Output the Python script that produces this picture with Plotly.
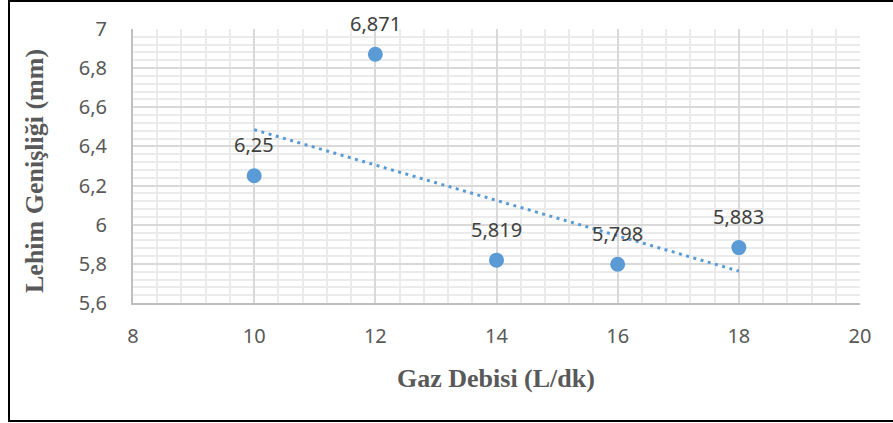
import numpy as np
import plotly.graph_objects as go

# Gas flow rate (L/min) vs. weld bead width (mm)
gaz_debisi = [10, 12, 14, 16, 18]
lehim_genisligi = [6.25, 6.871, 5.819, 5.798, 5.883]
etiketler = [str(v).replace(".", ",") for v in lehim_genisligi]

x_ticks = [8, 10, 12, 14, 16, 18, 20]
y_ticks = [5.6, 5.8, 6.0, 6.2, 6.4, 6.6, 6.8, 7.0]

BLUE = "#5b9bd5"
NUM_FONT = "Noto Sans"
TITLE_FONT = "Liberation Serif"

# Linear trend line over the measured points
slope, intercept = np.polyfit(gaz_debisi, lehim_genisligi, 1)
trend_x = [min(gaz_debisi), max(gaz_debisi)]
trend_y = [slope * v + intercept for v in trend_x]

fig = go.Figure()
fig.add_trace(go.Scatter(
    x=trend_x, y=trend_y, mode="lines",
    line=dict(color=BLUE, width=3, dash="3px,4.5px"),
    hoverinfo="skip", showlegend=False,
))
fig.add_trace(go.Scatter(
    x=gaz_debisi, y=lehim_genisligi, mode="markers",
    marker=dict(color=BLUE, size=15),
    showlegend=False, cliponaxis=False,
))

# Value labels above each point
for xv, yv, lab in zip(gaz_debisi, lehim_genisligi, etiketler):
    fig.add_annotation(
        x=xv, y=yv, text=lab, showarrow=False, yshift=31,
        xanchor="center", yanchor="middle",
        font=dict(family=NUM_FONT, size=20, color="#404040"),
    )

W, H = 893, 423
L, R, T, B = 133, 860, 29, 303

fig.update_layout(
    width=W, height=H,
    margin=dict(l=L, r=W - R, t=T, b=H - B),
    paper_bgcolor="white", plot_bgcolor="white",
    separators=",.",
    showlegend=False,
)
fig.update_xaxes(
    range=[8, 20], tickvals=x_ticks, ticks="",
    showgrid=True, gridcolor="#d9d9d9", gridwidth=1.5,
    minor=dict(dtick=0.4, showgrid=True, gridcolor="#ebebeb", gridwidth=1.5),
    showline=True, linecolor="#bfbfbf", linewidth=2,
    zeroline=False,
    tickfont=dict(family=NUM_FONT, size=20, color="#595959"),
    ticklabelstandoff=14,
)
fig.update_yaxes(
    range=[5.6, 7.0], tickvals=y_ticks, ticks="",
    showgrid=True, gridcolor="#d9d9d9", gridwidth=1.5,
    minor=dict(dtick=0.04, showgrid=True, gridcolor="#ebebeb", gridwidth=1.5),
    showline=True, linecolor="#bfbfbf", linewidth=2,
    zeroline=False,
    tickfont=dict(family=NUM_FONT, size=20, color="#595959"),
    ticklabelstandoff=20,
)


def px_x(p):
    return (p - L) / (R - L)


def px_y(p):
    return (B - p) / (B - T)


# Axis titles
fig.add_annotation(
    text="Gaz Debisi (L/dk)", xref="paper", yref="paper",
    x=px_x(496), y=px_y(378), showarrow=False,
    xanchor="center", yanchor="middle",
    font=dict(family=TITLE_FONT, size=26, color="#595959", weight="bold"),
)
fig.add_annotation(
    text="Lehim Genişliği (mm)", xref="paper", yref="paper",
    x=px_x(35), y=px_y(171), showarrow=False, textangle=-90,
    xanchor="center", yanchor="middle",
    font=dict(family=TITLE_FONT, size=26, color="#595959", weight="bold"),
)

# Frame around the chart (left, top, bottom)
frame = dict(color="black", width=2)
fig.add_shape(type="line", xref="paper", yref="paper",
              x0=px_x(9), x1=px_x(9), y0=px_y(1), y1=px_y(421), line=frame)
fig.add_shape(type="line", xref="paper", yref="paper",
              x0=px_x(8), x1=px_x(893), y0=px_y(1), y1=px_y(1), line=frame)
fig.add_shape(type="line", xref="paper", yref="paper",
              x0=px_x(8), x1=px_x(893), y0=px_y(421), y1=px_y(421), line=frame)

fig.write_html("out.html")
